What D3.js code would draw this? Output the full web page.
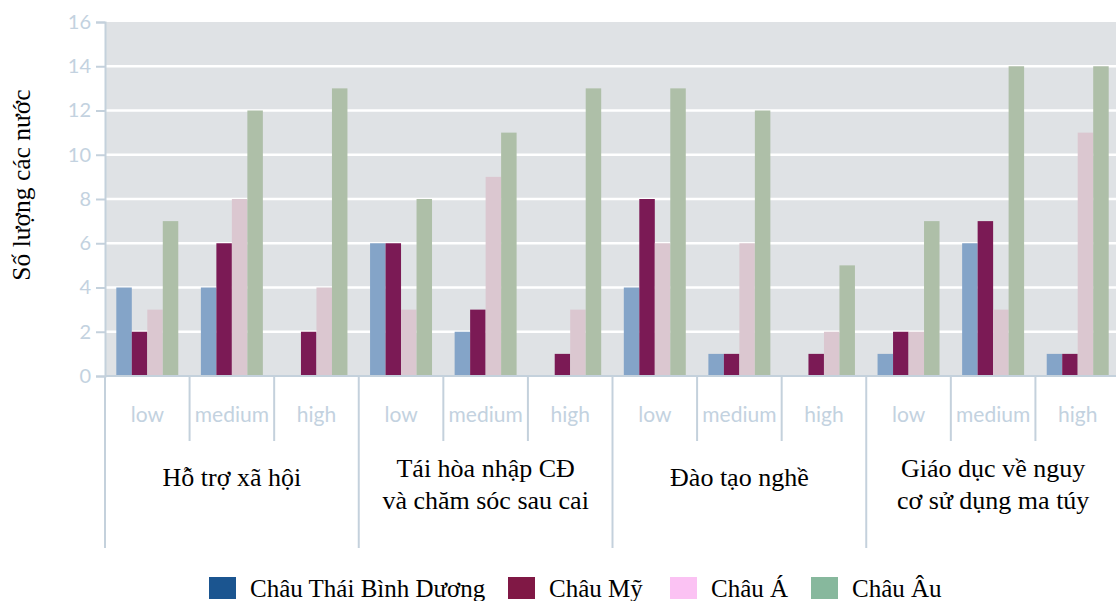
<!DOCTYPE html>
<html>
<head>
<meta charset="utf-8">
<script src="https://cdn.jsdelivr.net/npm/d3@7"></script>
<style>
  body { margin: 0; background: #fff; }
  svg { display: block; }
</style>
</head>
<body>
<div id="chart"></div>
<script>
// categories
const groups = [['Hỗ trợ xã hội'], ['Tái hòa nhập CĐ', 'và chăm sóc sau cai'], ['Đào tạo nghề'], ['Giáo dục về nguy', 'cơ sử dụng ma túy']]
const levels = ['low', 'medium', 'high']
const series = ['Châu Thái Bình Dương', 'Châu Mỹ', 'Châu Á', 'Châu Âu']
const yTicks = [0, 2, 4, 6, 8, 10, 12, 14, 16]

// values per series, in order group x level
const thaiBinhDuong = [4, 4, 0, 6, 2, 0, 4, 1, 0, 1, 6, 1]
const chauMy = [2, 6, 2, 6, 3, 1, 8, 1, 1, 2, 7, 1]
const chauA = [3, 8, 4, 3, 9, 3, 6, 6, 2, 2, 3, 11]
const chauAu = [7, 12, 13, 8, 11, 13, 13, 12, 5, 7, 14, 14]

const barColors = ['#84a4c8', '#7b1a55', '#dbc7d0', '#aebfa8']
const legendColors = ['#1b5590', '#801845', '#fbc2f3', '#87b89d']

const width = 1116, height = 601
const plot = { left: 105, right: 1120, top: 22, bottom: 376 }

const svg = d3.select('#chart').append('svg')
    .attr('width', width)
    .attr('height', height)

const keys = []
groups.forEach((g, gi) => levels.forEach((l, li) => keys.push(gi + '-' + l)))

const values = keys.map((k, i) => [thaiBinhDuong[i], chauMy[i], chauA[i], chauAu[i]])

const x = d3.scaleBand().domain(keys).range([plot.left, plot.right])
const xInner = d3.scaleBand().domain(series).range([0, x.bandwidth()]).paddingOuter(0.73)
const y = d3.scaleLinear().domain([0, 16]).range([plot.bottom, plot.top])

// plot background
svg.append('rect')
    .attr('x', plot.left).attr('y', plot.top)
    .attr('width', plot.right - plot.left).attr('height', plot.bottom - plot.top)
    .attr('fill', '#dfe2e5')

// grid
svg.append('g').selectAll('line')
    .data(yTicks.filter(d => d > 0 && d < 16))
    .enter().append('line')
    .attr('x1', plot.left).attr('x2', plot.right)
    .attr('y1', d => y(d)).attr('y2', d => y(d))
    .attr('stroke', '#fff').attr('stroke-width', 2.5)

// bars
const subG = svg.append('g').selectAll('g')
    .data(keys)
    .enter().append('g')
    .attr('transform', d => 'translate(' + x(d) + ',0)')

subG.selectAll('rect')
    .data((d, i) => values[i].map((v, si) => ({ s: series[si], v: v, si: si })))
    .enter().append('rect')
    .attr('x', d => xInner(d.s))
    .attr('width', xInner.bandwidth())
    .attr('y', d => y(d.v))
    .attr('height', d => y(0) - y(d.v))
    .attr('fill', d => barColors[d.si])

// y axis
const yAxis = svg.append('g')
    .attr('transform', 'translate(' + plot.left + ',0)')
    .call(d3.axisLeft(y).tickValues(yTicks).tickSize(9).tickPadding(5))
yAxis.select('.domain').attr('stroke', '#c4d1dc').attr('stroke-width', 2)
yAxis.selectAll('.tick line').attr('stroke', '#c4d1dc').attr('stroke-width', 2)
yAxis.selectAll('.tick text')
    .attr('fill', '#c3d2e0')
    .style('font-family', 'Lato, sans-serif')
    .style('font-size', '20px')

// x axis line
svg.append('line')
    .attr('x1', plot.left).attr('x2', plot.right)
    .attr('y1', plot.bottom).attr('y2', plot.bottom)
    .attr('stroke', '#c4d1dc').attr('stroke-width', 2)

// separators below axis
svg.append('g').selectAll('line')
    .data(keys)
    .enter().append('line')
    .attr('x1', d => x(d)).attr('x2', d => x(d))
    .attr('y1', plot.bottom)
    .attr('y2', (d, i) => i % 3 === 0 ? 548 : 441)
    .attr('stroke', '#c4d1dc').attr('stroke-width', 2)

// level labels
svg.append('g').selectAll('text')
    .data(keys)
    .enter().append('text')
    .attr('x', d => x(d) + x.bandwidth() / 2)
    .attr('y', 422)
    .attr('text-anchor', 'middle')
    .attr('fill', '#c3d2e0')
    .style('font-family', 'Lato, sans-serif')
    .style('font-size', '21px')
    .text(d => d.split('-')[1])

// group labels
const groupW = x.step() * 3
svg.append('g').selectAll('text')
    .data(groups)
    .enter().append('text')
    .attr('x', (d, i) => plot.left + groupW * (i + 0.5))
    .attr('y', d => d.length === 1 ? 486 : 477)
    .attr('text-anchor', 'middle')
    .attr('fill', '#000')
    .style('font-family', '"Liberation Serif", serif')
    .style('font-size', '26px')
    .each(function (d) {
        d3.select(this).selectAll('tspan')
            .data(d)
            .enter().append('tspan')
            .attr('x', d3.select(this).attr('x'))
            .attr('dy', (t, j) => j === 0 ? 0 : 32)
            .text(t => t)
    })

// y title
svg.append('text')
    .attr('transform', 'translate(30,185) rotate(-90)')
    .attr('text-anchor', 'middle')
    .style('font-family', '"Liberation Serif", serif')
    .style('font-size', '25.5px')
    .attr('fill', '#000')
    .text('Số lượng các nước')

// legend
const legendX = [209, 508, 670, 811]
const legend = svg.append('g').selectAll('g')
    .data(series)
    .enter().append('g')
    .attr('transform', (d, i) => 'translate(' + legendX[i] + ',577)')
legend.append('rect')
    .attr('width', 27).attr('height', 22)
    .attr('fill', (d, i) => legendColors[i])
legend.append('text')
    .attr('x', 41).attr('y', 20)
    .style('font-family', '"Liberation Serif", serif')
    .style('font-size', '25px')
    .attr('fill', '#000')
    .text(d => d)
</script>
</body>
</html>
